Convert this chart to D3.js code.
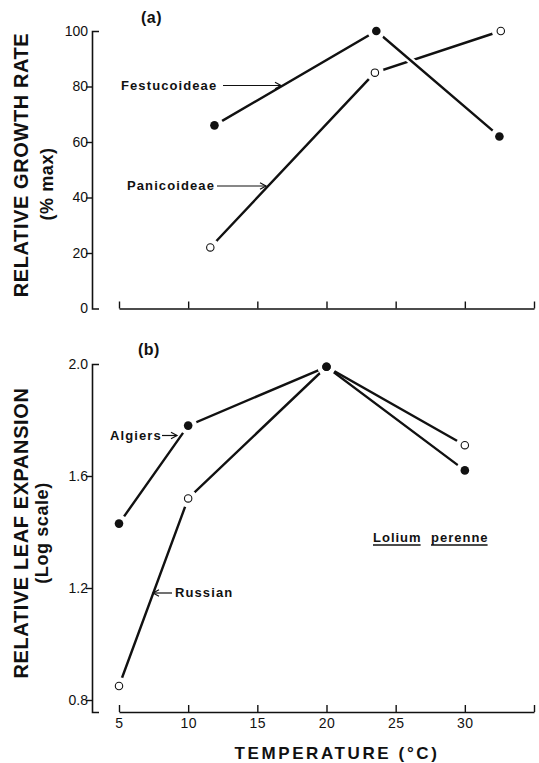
<!DOCTYPE html>
<html>
<head>
<meta charset="utf-8">
<script src="https://cdn.jsdelivr.net/npm/d3@7"></script>
<style>
  html, body { margin: 0; padding: 0; background: #fff; }
  svg { display: block; }
  .tick text { font-family: "Liberation Sans", Arial, sans-serif; font-size: 14px; fill: #111; }
  .lbl { font-family: "Liberation Sans", Arial, sans-serif; font-weight: bold; fill: #111; }
</style>
</head>
<body>
<svg id="chart" width="539" height="763"></svg>
<script>
// ── Data ─────────────────────────────────────────────────────────
// (a) relative growth rate, % of max
const festTemps = [11.9, 23.6, 32.5];
const festRate  = [66, 100, 62];
const paniTemps = [11.6, 23.5, 32.6];
const paniRate  = [22, 85, 100];

// (b) relative leaf expansion (log scale), Lolium perenne
const leafTemps = [5, 10, 20, 30];
const algiers   = [1.43, 1.78, 1.99, 1.62];
const russian   = [0.85, 1.52, 1.99, 1.71];

const xTicks  = [5, 10, 15, 20, 25, 30, 35];
const xLabels = [5, 10, 15, 20, 25, 30];
const yTicksA = [0, 20, 40, 60, 80, 100];
const yTicksB = [0.8, 1.2, 1.6, 2.0];

const svg = d3.select('#chart');
const LW = 2.4;

const x = d3.scaleLinear().domain([5, 35]).range([119, 534]);
const ya = d3.scaleLinear().domain([0, 100]).range([308.5, 31]);
const yb = d3.scaleLinear().domain([0.8, 2.0]).range([700, 364]);

// ── Axes ─────────────────────────────────────────────────────────
function yAxis(scale, ticks, fmt, bottom) {
  const s = scale.copy().domain([scale.invert(bottom), scale.domain()[1]]).range([bottom, scale.range()[1]]);
  const g = svg.append('g').attr('transform', 'translate(92,0)')
    .call(d3.axisLeft(s).tickValues(ticks).tickFormat(fmt)
      .tickSize(6).tickSizeOuter(-7).tickPadding(-2));
  g.selectAll('path.domain').attr('stroke', '#111').attr('stroke-width', 1.6);
  g.selectAll('.tick line').attr('stroke', '#111').attr('stroke-width', 1.4);
  // top value carries the inward cap instead of a left tick
  g.selectAll('.tick').filter(d => d === ticks[ticks.length - 1] || s(d) >= bottom - 0.5)
    .select('line').attr('x2', 0);
  return g;
}

function xAxis(yPos, labels) {
  const g = svg.append('g').attr('transform', `translate(0,${yPos})`)
    .call(d3.axisBottom(x).tickValues(xTicks)
      .tickFormat(d => labels.includes(d) ? d : '')
      .tickSize(-7).tickSizeOuter(0).tickPadding(6));
  g.selectAll('path.domain').attr('stroke', '#111').attr('stroke-width', 1.6);
  g.selectAll('.tick line').attr('stroke', '#111').attr('stroke-width', 1.4);
  g.selectAll('.tick text').attr('letter-spacing', '0.5px');
}

yAxis(ya, yTicksA, d3.format('d'), 308.5);
xAxis(308.5, []);
yAxis(yb, yTicksB, d3.format('.1f'), 712);
xAxis(712, xLabels);

// ── Series ───────────────────────────────────────────────────────
function series(xs, ys, yScale, filled, casing) {
  const pts = xs.map((t, i) => [x(t), yScale(ys[i])]);
  const line = d3.line();
  if (casing) {
    svg.append('path').attr('d', line(pts)).attr('fill', 'none')
      .attr('stroke', '#fff').attr('stroke-width', 7);
  }
  svg.append('path').attr('d', line(pts)).attr('fill', 'none')
    .attr('stroke', '#111').attr('stroke-width', LW);
  return { pts, filled };
}

// white ring round each point leaves the gap between line end and marker
function markers(list) {
  list.forEach(s => s.pts.forEach(p => {
    svg.append('circle').attr('cx', p[0]).attr('cy', p[1]).attr('r', 9).attr('fill', '#fff');
  }));
  list.forEach(s => s.pts.forEach(p => {
    svg.append('circle').attr('cx', p[0]).attr('cy', p[1])
      .attr('r', s.filled ? 4.3 : 3.7)
      .attr('fill', s.filled ? '#111' : '#fff')
      .attr('stroke', '#111').attr('stroke-width', s.filled ? 0 : 1.1);
  }));
}

const pani = series(paniTemps, paniRate, ya, false, false);
const fest = series(festTemps, festRate, ya, true, true);
markers([pani, fest]);

const russ = series(leafTemps, russian, yb, false, false);
const alg = series(leafTemps, algiers, yb, true, false);
markers([russ, alg]);

// ── Labels & arrows ──────────────────────────────────────────────
function label(txt, x0, y0, size, anchor, spacing) {
  return svg.append('text').attr('class', 'lbl')
    .attr('x', x0).attr('y', y0)
    .attr('font-size', size + 'px')
    .attr('text-anchor', anchor || 'start')
    .attr('letter-spacing', (spacing || 0) + 'px')
    .text(txt);
}

function arrow(x1, x2, yPos) {
  const dir = x2 > x1 ? 1 : -1;
  svg.append('line').attr('x1', x1).attr('x2', x2).attr('y1', yPos).attr('y2', yPos)
    .attr('stroke', '#111').attr('stroke-width', 1.2);
  svg.append('path')
    .attr('d', `M${x2 - dir * 6},${yPos - 3.2} L${x2},${yPos} L${x2 - dir * 6},${yPos + 3.2}`)
    .attr('fill', 'none').attr('stroke', '#111').attr('stroke-width', 1.2);
}

label('(a)', 141, 23, 16, 'start', 0.5);
label('(b)', 138, 355, 16, 'start', 0.5);

label('Festucoideae', 121, 89.5, 13, 'start', 1.1);
arrow(223, 281, 85.5);
label('Panicoideae', 127, 190, 13, 'start', 1.1);
arrow(217, 266, 186);

label('Algiers', 110, 439.5, 13, 'start', 1.1);
arrow(162, 177, 435.5);
label('Russian', 175, 597, 13, 'start', 1.1);
arrow(172, 153, 593);

// Lolium perenne, underlined word by word
[['Lolium', 373], ['perenne', 431]].forEach(([w, x0]) => {
  const t = label(w, x0, 542, 13, 'start', 1);
  const len = t.node().getComputedTextLength();
  svg.append('line').attr('x1', x0).attr('x2', x0 + len - 1)
    .attr('y1', 545).attr('y2', 545).attr('stroke', '#111').attr('stroke-width', 1.4);
});

// axis titles
function vlabel(txt, xPos, yCenter, size, spacing) {
  svg.append('text').attr('class', 'lbl')
    .attr('transform', `translate(${xPos},${yCenter}) rotate(-90)`)
    .attr('text-anchor', 'middle')
    .attr('font-size', size + 'px')
    .attr('letter-spacing', spacing + 'px')
    .text(txt);
}
vlabel('RELATIVE GROWTH RATE', 28, 165, 20, 0.6);
vlabel('(% max)', 53, 184, 18, 0.6);
vlabel('RELATIVE LEAF EXPANSION', 28, 533, 20, 0.6);
vlabel('(Log scale)', 48, 533, 18, 0.6);

label('TEMPERATURE (°C)', 337, 759, 17, 'middle', 2.6);
</script>
</body>
</html>
